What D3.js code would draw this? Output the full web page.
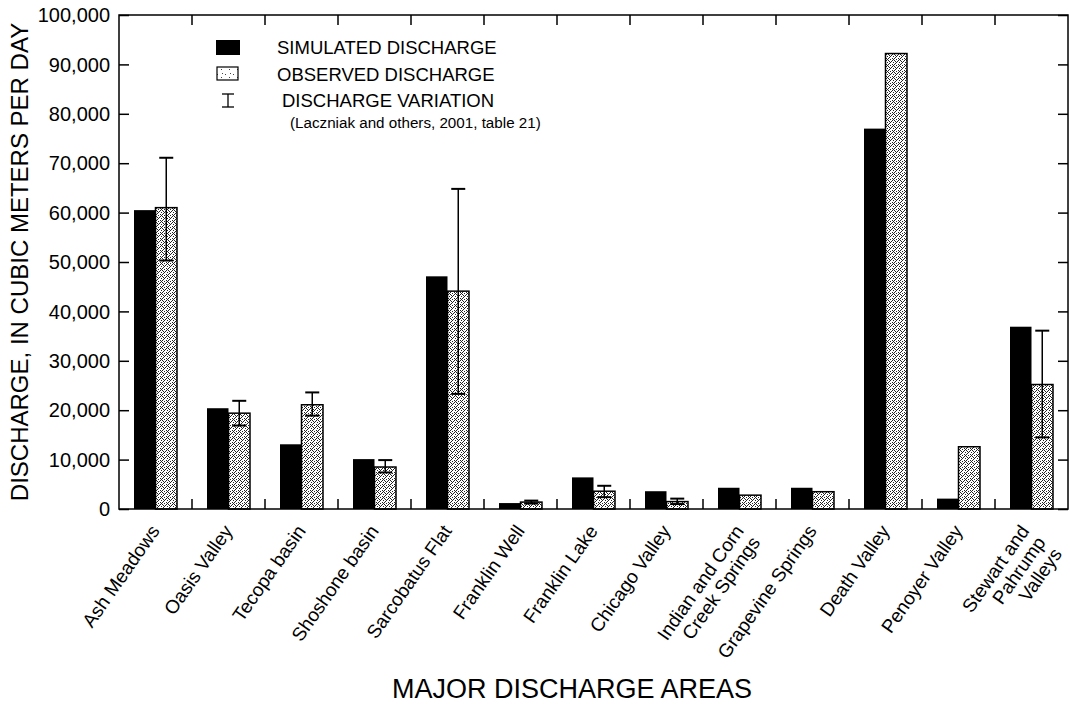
<!DOCTYPE html>
<html>
<head>
<meta charset="utf-8">
<script src="https://cdn.jsdelivr.net/npm/d3@7"></script>
<style>
  html, body { margin: 0; padding: 0; background: #fff; }
  svg { display: block; font-family: "Liberation Sans", Arial, Helvetica, sans-serif; }
</style>
</head>
<body>
<svg id="chart" width="1070" height="708"></svg>
<script>
const categories = [
  "Ash Meadows", "Oasis Valley", "Tecopa basin", "Shoshone basin", "Sarcobatus Flat",
  "Franklin Well", "Franklin Lake", "Chicago Valley", "Indian and Corn\nCreek Springs",
  "Grapevine Springs", "Death Valley", "Penoyer Valley", "Stewart and\nPahrump\nValleys"
];
const simulated = [60500, 20400, 13100, 10100, 47100, 1200, 6400, 3600, 4300, 4300, 77000, 2100, 36900];
const observed  = [61000, 19400, 21100, 8500, 44100, 1400, 3600, 1500, 2800, 3500, 92200, 12600, 25200];
const errLow    = [50300, 16900, 18900, 7400, 23300, 1100, 2400, 1000, null, null, null, null, 14500];
const errHigh   = [71100, 21900, 23600, 9900, 64800, 1700, 4700, 2100, null, null, null, null, 36100];
const yTicks = [0, 10000, 20000, 30000, 40000, 50000, 60000, 70000, 80000, 90000, 100000];
const seriesNames = ["SIMULATED DISCHARGE", "OBSERVED DISCHARGE", "DISCHARGE VARIATION"];
const legendNote = "(Laczniak and others, 2001, table 21)";
const yTitle = "DISCHARGE, IN CUBIC METERS PER DAY";
const xTitle = "MAJOR DISCHARGE AREAS";

(function () {
const svg = d3.select("#chart");
const mLeft = 119, mRight = 1068, mTop = 15, mBottom = 509;

// stipple pattern
const defs = svg.append("defs");
const pat = defs.append("pattern").attr("id", "stip").attr("patternUnits", "userSpaceOnUse")
  .attr("width", 6).attr("height", 6);
pat.append("rect").attr("width", 6).attr("height", 6).attr("fill", "#fff");
const dots = [[0,0],[3,1],[1,3],[4,4],[5,2],[2,5],[0,4],[4,0],[2,2],[5,5],[1,1]];
dots.forEach(d => pat.append("rect").attr("x", d[0]).attr("y", d[1]).attr("width", 1).attr("height", 1).attr("fill", "#222"));
const pat2 = defs.append("pattern").attr("id", "stipL").attr("patternUnits", "userSpaceOnUse")
  .attr("width", 8).attr("height", 8);
pat2.append("rect").attr("width", 8).attr("height", 8).attr("fill", "#fff");
[[1,2],[5,5],[6,1]].forEach(d => pat2.append("rect").attr("x", d[0]).attr("y", d[1]).attr("width", 1).attr("height", 1).attr("fill", "#444"));

const x = d3.scaleBand().domain(categories).range([mLeft, mRight]).paddingInner(0).paddingOuter(0);
const x1 = d3.scaleBand().domain(["sim", "obs"]).range([15, 58]).padding(0);
const y = d3.scaleLinear().domain([0, 100000]).range([mBottom, mTop]);

const data = categories.map((c, i) => ({c, sim: simulated[i], obs: observed[i], lo: errLow[i], hi: errHigh[i]}));

// bars
const g = svg.append("g");
g.selectAll(".sim").data(data).join("rect")
  .attr("x", d => x(d.c) + x1("sim")).attr("width", x1.bandwidth())
  .attr("y", d => y(d.sim)).attr("height", d => y(0) - y(d.sim))
  .attr("fill", "#000");
g.selectAll(".obs").data(data).join("rect")
  .attr("x", d => x(d.c) + x1("obs")).attr("width", x1.bandwidth())
  .attr("y", d => y(d.obs)).attr("height", d => y(0) - y(d.obs))
  .attr("fill", "url(#stip)").attr("stroke", "#000").attr("stroke-width", 1.5);

// error bars
const eb = g.selectAll(".err").data(data.filter(d => d.lo != null)).join("g")
  .attr("transform", d => `translate(${x(d.c) + x1("obs") + x1.bandwidth() / 2},0)`);
eb.append("line").attr("y1", d => y(d.lo)).attr("y2", d => y(d.hi)).attr("stroke", "#000").attr("stroke-width", 1.5);
eb.append("line").attr("x1", -7).attr("x2", 7).attr("y1", d => y(d.hi)).attr("y2", d => y(d.hi)).attr("stroke", "#000").attr("stroke-width", 2);
eb.append("line").attr("x1", -7).attr("x2", 7).attr("y1", d => y(d.lo)).attr("y2", d => y(d.lo)).attr("stroke", "#000").attr("stroke-width", 2);

// axes
const yAxisL = d3.axisRight(y).tickValues(yTicks).tickSize(10).tickFormat("");
const gl = svg.append("g").attr("transform", `translate(${mLeft},0)`).call(yAxisL);
const yAxisR = d3.axisLeft(y).tickValues(yTicks).tickSize(10).tickFormat("");
const gr = svg.append("g").attr("transform", `translate(${mRight},0)`).call(yAxisR);
const boundaries = categories.slice(1);
const xAxisB = d3.axisTop(x).tickValues(boundaries).tickSize(10).tickFormat("").offset(0);
const gb = svg.append("g").attr("transform", `translate(0,${mBottom})`).call(xAxisB);
const xAxisT = d3.axisBottom(x).tickValues(boundaries).tickSize(10).tickFormat("").offset(0);
const gt = svg.append("g").attr("transform", `translate(0,${mTop})`).call(xAxisT);
[gb, gt].forEach(a => a.selectAll(".tick").attr("transform", d => `translate(${x(d)},0)`));
[gl, gr, gb, gt].forEach(a => {
  a.selectAll(".domain").remove();
  a.selectAll(".tick line").attr("stroke", "#000").attr("stroke-width", 1.5);
});
svg.append("rect").attr("x", mLeft).attr("y", mTop).attr("width", mRight - mLeft).attr("height", mBottom - mTop)
  .attr("fill", "none").attr("stroke", "#000").attr("stroke-width", 1.5);

// y tick labels
svg.append("g").selectAll("text").data(yTicks).join("text")
  .attr("x", 110).attr("y", d => y(d)).attr("dy", "0.36em")
  .attr("text-anchor", "end").attr("font-size", 20).text(d => d3.format(",")(d));

// y title
svg.append("text").attr("transform", `translate(28,262) rotate(-90)`)
  .attr("text-anchor", "middle").attr("font-size", 24).text(yTitle);

// x labels
const xl = svg.append("g").selectAll("g").data(categories).join("g")
  .attr("transform", d => `translate(${x(d) + x.bandwidth() / 2 + 5},531) rotate(-55)`);
xl.each(function(d) {
  const lines = d.split("\n");
  const t = d3.select(this).append("text").attr("text-anchor", "end").attr("font-size", 19);
  lines.forEach((ln, i) => t.append("tspan").attr("x", 0).attr("dy", i === 0 ? 0 : 20).text(ln));
});
// keep labels inside the page on the right
xl.each(function(d) {
  const r = this.getBoundingClientRect();
  const over = r.right - 1066;
  if (over > 0) {
    d3.select(this).attr("transform", `translate(${x(d) + x.bandwidth() / 2 + 5 - over},531) rotate(-55)`);
  }
});

// x title
svg.append("text").attr("x", 572).attr("y", 698).attr("text-anchor", "middle").attr("font-size", 27).text(xTitle);

// legend
const lg = svg.append("g");
lg.append("rect").attr("x", 216).attr("y", 40).attr("width", 24).attr("height", 15).attr("fill", "#000");
lg.append("rect").attr("x", 217).attr("y", 67).attr("width", 21).attr("height", 13).attr("fill", "url(#stipL)").attr("stroke", "#000").attr("stroke-width", 1.2);
lg.append("line").attr("x1", 228).attr("x2", 228).attr("y1", 94).attr("y2", 107).attr("stroke", "#000").attr("stroke-width", 1.3);
lg.append("line").attr("x1", 222).attr("x2", 234).attr("y1", 94).attr("y2", 94).attr("stroke", "#000").attr("stroke-width", 1.3);
lg.append("line").attr("x1", 222).attr("x2", 234).attr("y1", 107).attr("y2", 107).attr("stroke", "#000").attr("stroke-width", 1.3);
lg.append("text").attr("x", 277).attr("y", 54).attr("font-size", 18.5).text(seriesNames[0]);
lg.append("text").attr("x", 277).attr("y", 81).attr("font-size", 18.5).text(seriesNames[1]);
lg.append("text").attr("x", 282).attr("y", 107).attr("font-size", 18.5).text(seriesNames[2]);
lg.append("text").attr("x", 290).attr("y", 128).attr("font-size", 15.2).text(legendNote);
})();
</script>
</body>
</html>
